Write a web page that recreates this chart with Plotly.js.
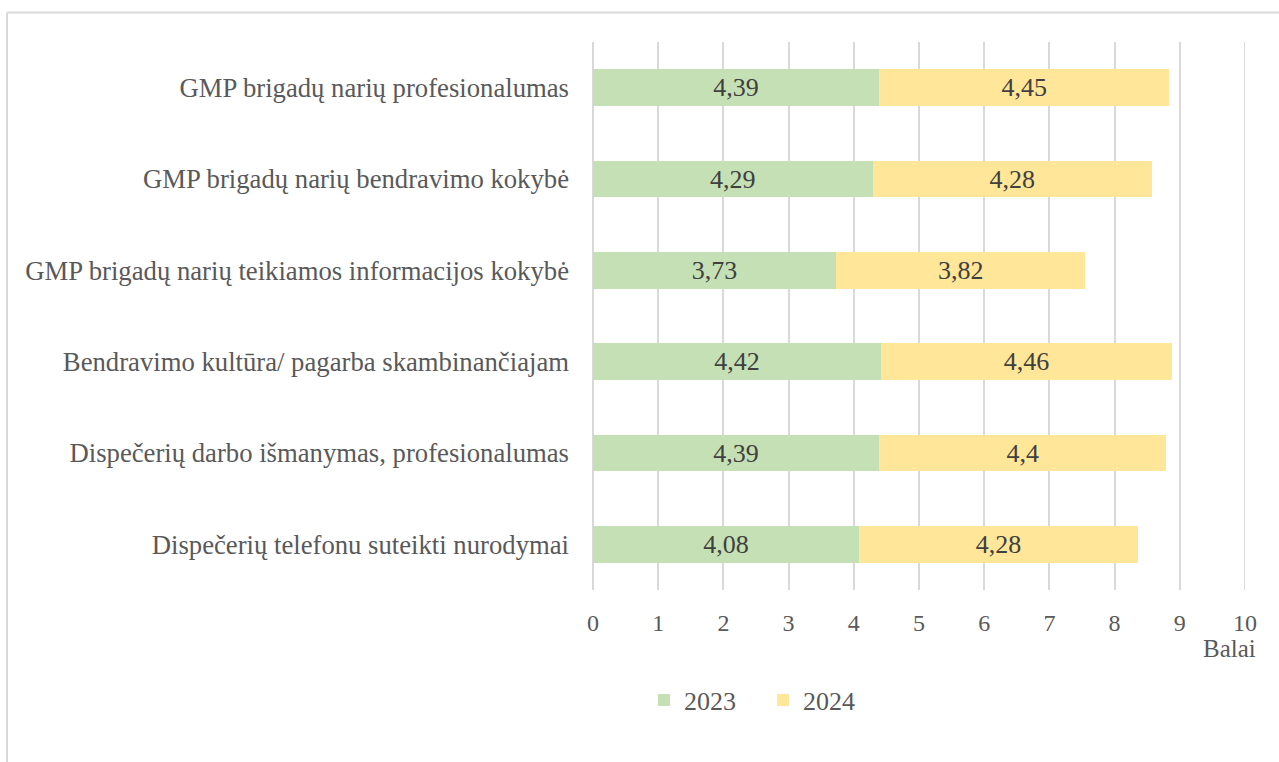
<!DOCTYPE html>
<html>
<head>
<meta charset="utf-8">
<script src="https://cdn.plot.ly/plotly-3.0.1.min.js"></script>
<style>html,body{margin:0;padding:0;background:#fff;}#chart{width:1279px;height:762px;}</style>
</head>
<body>
<div id="chart"></div>
<script>
const categories = [
  "GMP brigadų narių profesionalumas",
  "GMP brigadų narių bendravimo kokybė",
  "GMP brigadų narių teikiamos informacijos kokybė",
  "Bendravimo kultūra/ pagarba skambinančiajam",
  "Dispečerių darbo išmanymas, profesionalumas",
  "Dispečerių telefonu suteikti nurodymai"
];
const values2023 = [4.39, 4.29, 3.73, 4.42, 4.39, 4.08];
const values2024 = [4.45, 4.28, 3.82, 4.46, 4.4, 4.28];
const xTicks = [0,1,2,3,4,5,6,7,8,9,10];

const fmt = v => String(v).replace('.', ',');
const font = "'Liberation Serif', 'Times New Roman', serif";

const traces = [
  {type:'bar', orientation:'h', name:'2023', y:categories, x:values2023,
   text:values2023.map(fmt), textposition:'inside', insidetextanchor:'middle', constraintext:'none',
   textfont:{family:font,size:26,color:'#404040'},
   marker:{color:'#c5e0b4'}, hoverinfo:'x+name'},
  {type:'bar', orientation:'h', name:'2024', y:categories, x:values2024,
   text:values2024.map(fmt), textposition:'inside', insidetextanchor:'middle', constraintext:'none',
   textfont:{family:font,size:26,color:'#404040'},
   marker:{color:'#ffe699'}, hoverinfo:'x+name'}
];

const L=593, R=34, T=42, B=172, W=1279-L-R, H=762-T-B;
const px = x => (x-L)/W;
const py = y => (762-B-y)/H;

const layout = {
  width:1279, height:762,
  margin:{l:L, r:R, t:T, b:B, pad:0},
  paper_bgcolor:'#fff', plot_bgcolor:'#fff',
  font:{family:font, size:24, color:'#595959'},
  barmode:'stack', bargap:0.6,
  showlegend:true,
  legend:{orientation:'h', x:px(763), xanchor:'center', y:py(700), yanchor:'middle',
          font:{family:font,size:26,color:'#595959'}, itemwidth:30, traceorder:'normal',
          entrywidth:74},
  xaxis:{range:[0,10], tickvals:xTicks, ticktext:xTicks.map(String),
         showgrid:true, gridcolor:'#d9d9d9', gridwidth:2,
         zeroline:true, zerolinecolor:'#d9d9d9', zerolinewidth:2,
         showline:false, ticks:'', ticklabelstandoff:16,
         tickfont:{family:font,size:24,color:'#595959'}, fixedrange:true},
  yaxis:{autorange:'reversed', showgrid:false, zeroline:false, showline:false, ticks:'',
         ticklabelstandoff:23, tickfont:{family:font,size:26.7,color:'#595959'}, fixedrange:true},
  annotations:[
    {text:'Balai', xref:'paper', yref:'paper', x:px(1258), y:py(648), xanchor:'right', yanchor:'middle',
     showarrow:false, font:{family:font,size:25,color:'#595959'}}
  ],
  shapes:[
    {type:'line', xref:'x', yref:'paper', x0:xTicks[xTicks.length-1], x1:xTicks[xTicks.length-1], y0:0, y1:1, layer:'below', line:{color:'#d9d9d9', width:2}},
    {type:'line', xref:'paper', yref:'paper', x0:px(7), x1:px(7), y0:py(12.5), y1:py(780), line:{color:'#d9d9d9', width:2}},
    {type:'line', xref:'paper', yref:'paper', x0:px(7), x1:px(1290), y0:py(12.5), y1:py(12.5), line:{color:'#d9d9d9', width:2}}
  ]
};

Plotly.newPlot('chart', traces, layout, {displayModeBar:false, staticPlot:true});
</script>
</body>
</html>
